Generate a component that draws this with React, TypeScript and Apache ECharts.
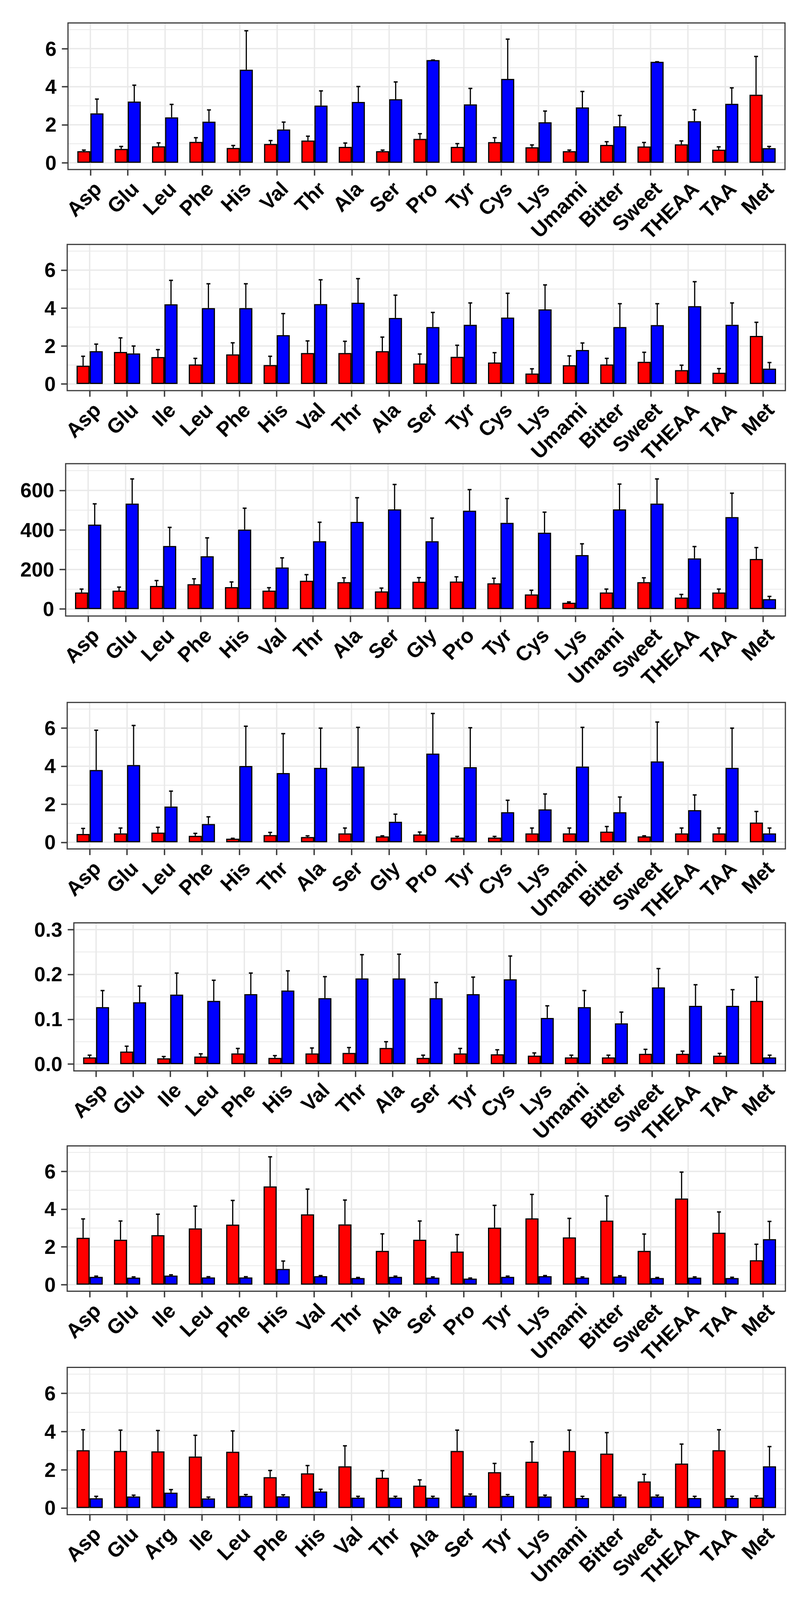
import React, { useEffect, useRef, useState } from "react";
import * as echarts from "echarts";

const REF_W = 2073;
const REF_H = 4182;
const FONT = "'Liberation Sans', Arial, Helvetica, sans-serif";

// ---------- data ----------
const CATS_A = ["Asp","Glu","Leu","Phe","His","Val","Thr","Ala","Ser","Pro","Tyr","Cys","Lys","Umami","Bitter","Sweet","THEAA","TAA","Met"];
const RED_A = [0.61,0.73,0.87,1.10,0.78,0.99,1.17,0.84,0.61,1.26,0.84,1.09,0.82,0.61,0.94,0.86,0.97,0.69,3.58];
const RED_A_UP = [0.67,0.86,1.05,1.32,0.91,1.17,1.40,1.04,0.67,1.53,1.01,1.32,0.94,0.67,1.11,1.07,1.15,0.84,5.59];
const BLUE_A = [2.60,3.22,2.39,2.16,4.89,1.75,3.01,3.20,3.34,5.40,3.07,4.41,2.13,2.91,1.92,5.31,2.19,3.10,0.77];
const BLUE_A_UP = [3.35,4.08,3.07,2.78,6.94,2.14,3.78,4.01,4.25,5.40,3.91,6.50,2.72,3.75,2.49,5.31,2.79,3.94,0.86];

const CATS_B = ["Asp","Glu","Ile","Leu","Phe","His","Val","Thr","Ala","Ser","Tyr","Cys","Lys","Umami","Bitter","Sweet","THEAA","TAA","Met"];
const RED_B = [0.96,1.69,1.42,1.03,1.56,1.00,1.63,1.63,1.73,1.08,1.43,1.13,0.55,0.99,1.03,1.17,0.73,0.59,2.53];
const RED_B_UP = [1.46,2.43,1.81,1.35,2.17,1.46,2.27,2.25,2.47,1.58,2.04,1.65,0.80,1.48,1.35,1.67,0.99,0.81,3.25];
const BLUE_B = [1.73,1.61,4.20,4.00,4.00,2.57,4.21,4.28,3.48,3.00,3.12,3.50,3.93,1.79,3.00,3.10,4.10,3.12,0.81];
const BLUE_B_UP = [2.10,2.00,5.46,5.28,5.28,3.71,5.49,5.55,4.68,3.77,4.27,4.78,5.22,2.16,4.23,4.23,5.39,4.27,1.13];

const CATS_C = ["Asp","Glu","Leu","Phe","His","Val","Thr","Ala","Ser","Gly","Pro","Tyr","Cys","Lys","Umami","Sweet","THEAA","TAA","Met"];
const RED_C = [84,93,117,126,111,93,143,136,89,138,139,130,74,32,84,136,58,84,253];
const RED_C_UP = [101,111,144,153,137,108,174,158,106,159,163,156,95,36,101,158,74,101,311];
const BLUE_C = [427,533,319,267,402,210,343,441,504,343,497,436,386,273,504,533,256,465,50];
const BLUE_C_UP = [532,658,413,360,510,259,439,563,630,460,604,559,490,330,632,658,316,586,64];

const CATS_D = ["Asp","Glu","Leu","Phe","His","Thr","Ala","Ser","Gly","Pro","Tyr","Cys","Lys","Umami","Bitter","Sweet","THEAA","TAA","Met"];
const RED_D = [0.44,0.47,0.51,0.34,0.19,0.38,0.28,0.47,0.31,0.41,0.25,0.25,0.47,0.47,0.56,0.31,0.47,0.47,1.04];
const RED_D_UP = [0.73,0.75,0.79,0.47,0.21,0.52,0.34,0.75,0.34,0.54,0.31,0.31,0.75,0.75,0.83,0.34,0.75,0.75,1.62];
const BLUE_D = [3.80,4.06,1.88,0.96,4.01,3.64,3.91,3.98,1.08,4.66,3.95,1.58,1.73,3.98,1.58,4.25,1.69,3.91,0.47];
const BLUE_D_UP = [5.89,6.14,2.69,1.34,6.10,5.71,6.00,6.04,1.48,6.77,6.02,2.21,2.54,6.04,2.38,6.32,2.49,6.00,0.75];

const CATS_E = ["Asp","Glu","Ile","Leu","Phe","His","Val","Thr","Ala","Ser","Tyr","Cys","Lys","Umami","Bitter","Sweet","THEAA","TAA","Met"];
const RED_E = [0.015,0.028,0.013,0.017,0.024,0.014,0.024,0.025,0.036,0.014,0.024,0.022,0.019,0.015,0.015,0.023,0.023,0.019,0.141];
const RED_E_UP = [0.020,0.040,0.017,0.023,0.035,0.019,0.036,0.037,0.050,0.020,0.035,0.032,0.025,0.020,0.020,0.033,0.029,0.024,0.194];
const BLUE_E = [0.127,0.138,0.155,0.141,0.156,0.164,0.147,0.191,0.191,0.147,0.156,0.189,0.103,0.127,0.091,0.171,0.130,0.130,0.015];
const BLUE_E_UP = [0.164,0.174,0.203,0.187,0.203,0.208,0.195,0.244,0.245,0.182,0.194,0.241,0.130,0.164,0.116,0.213,0.177,0.166,0.020];

const CATS_F = ["Asp","Glu","Ile","Leu","Phe","His","Val","Thr","Ala","Ser","Pro","Tyr","Lys","Umami","Bitter","Sweet","THEAA","TAA","Met"];
const RED_F = [2.48,2.38,2.62,2.98,3.18,5.20,3.72,3.19,1.79,2.38,1.75,3.02,3.51,2.50,3.39,1.79,4.56,2.75,1.29];
const RED_F_UP = [3.48,3.37,3.73,4.16,4.46,6.77,5.06,4.48,2.69,3.37,2.65,4.20,4.78,3.51,4.70,2.68,5.96,3.85,2.14];
const BLUE_F = [0.41,0.37,0.48,0.38,0.38,0.83,0.45,0.35,0.41,0.37,0.32,0.41,0.45,0.37,0.43,0.35,0.37,0.35,2.41];
const BLUE_F_UP = [0.45,0.41,0.52,0.42,0.42,1.25,0.48,0.38,0.45,0.41,0.35,0.45,0.48,0.41,0.47,0.38,0.41,0.39,3.35];

const CATS_G = ["Asp","Glu","Arg","Ile","Leu","Phe","His","Val","Thr","Ala","Ser","Tyr","Lys","Umami","Bitter","Sweet","THEAA","TAA","Met"];
const RED_G = [3.02,2.98,2.96,2.69,2.94,1.61,1.81,2.18,1.58,1.17,2.98,1.87,2.42,2.98,2.84,1.39,2.32,3.02,0.54];
const RED_G_UP = [4.09,4.07,4.05,3.80,4.03,1.96,2.22,3.25,1.95,1.47,4.07,2.33,3.46,4.07,3.94,1.76,3.34,4.09,0.63];
const BLUE_G = [0.51,0.60,0.80,0.50,0.63,0.61,0.86,0.54,0.54,0.54,0.65,0.63,0.60,0.52,0.60,0.60,0.52,0.52,2.18];
const BLUE_G_UP = [0.61,0.67,0.96,0.57,0.70,0.69,0.98,0.61,0.61,0.61,0.73,0.70,0.67,0.61,0.67,0.67,0.61,0.61,3.21];

// y tick labels and axis limits (before the 5% expansion)
const TICKS_7 = [0, 2, 4, 6];
const TICKS_700 = [0, 200, 400, 600];
const TICKS_03 = [0, 0.1, 0.2, 0.3];
const LIMITS_7 = [0, 7];
const LIMITS_700 = [0, 700];
const LIMITS_03 = [0, 0.3];

// ---------- layout (panel boxes in reference pixels: left, top, right, bottom) ----------
const PANELS = [
  { cats: CATS_A, red: RED_A, redUp: RED_A_UP, blue: BLUE_A, blueUp: BLUE_A_UP, ticks: TICKS_7, lim: LIMITS_7, dec: 0, box: [174, 60, 2009, 443] },
  { cats: CATS_B, red: RED_B, redUp: RED_B_UP, blue: BLUE_B, blueUp: BLUE_B_UP, ticks: TICKS_7, lim: LIMITS_7, dec: 0, box: [172, 639, 2010, 1021] },
  { cats: CATS_C, red: RED_C, redUp: RED_C_UP, blue: BLUE_C, blueUp: BLUE_C_UP, ticks: TICKS_700, lim: LIMITS_700, dec: 0, box: [168, 1212, 2010, 1610] },
  { cats: CATS_D, red: RED_D, redUp: RED_D_UP, blue: BLUE_D, blueUp: BLUE_D_UP, ticks: TICKS_7, lim: LIMITS_7, dec: 0, box: [172, 1836, 2010, 2219] },
  { cats: CATS_E, red: RED_E, redUp: RED_E_UP, blue: BLUE_E, blueUp: BLUE_E_UP, ticks: TICKS_03, lim: LIMITS_03, dec: 1, box: [189, 2412, 2010, 2799] },
  { cats: CATS_F, red: RED_F, redUp: RED_F_UP, blue: BLUE_F, blueUp: BLUE_F_UP, ticks: TICKS_7, lim: LIMITS_7, dec: 0, box: [172, 2995, 2010, 3375] },
  { cats: CATS_G, red: RED_G, redUp: RED_G_UP, blue: BLUE_G, blueUp: BLUE_G_UP, ticks: TICKS_7, lim: LIMITS_7, dec: 0, box: [172, 3574, 2010, 3959] },
];

const RED = "#FF0000";
const BLUE = "#0000FF";
const GRID_COLOR = "#E9E9E9";
const FRAME_COLOR = "#3A3A3A";
const BAR_HALF = 0.35; // bar width in category units (dodge width 0.7)

function gridLinesRender(params: any, api: any) {
  const cs = params.coordSys;
  const kind = api.value(0);
  const v = api.value(1);
  const major = api.value(2);
  if (kind === 0) {
    const y = api.coord([0, v])[1];
    return {
      type: "line",
      shape: { x1: cs.x, y1: y, x2: cs.x + cs.width, y2: y },
      style: { stroke: GRID_COLOR, lineWidth: major ? 3.5 : 2 },
    };
  }
  const x = api.coord([v, 0])[0];
  return {
    type: "line",
    shape: { x1: x, y1: cs.y, x2: x, y2: cs.y + cs.height },
    style: { stroke: GRID_COLOR, lineWidth: 3.5 },
  };
}

function errorRender(offset: number) {
  return (params: any, api: any) => {
    const x = api.value(0) + offset;
    const p1 = api.coord([x, api.value(1)]);
    const p2 = api.coord([x, api.value(2)]);
    return {
      type: "group",
      children: [
        {
          type: "line",
          shape: { x1: p1[0], y1: p1[1], x2: p2[0], y2: p2[1] },
          style: { stroke: "#000", lineWidth: 3 },
        },
        {
          type: "line",
          shape: { x1: p2[0] - 5, y1: p2[1], x2: p2[0] + 5, y2: p2[1] },
          style: { stroke: "#000", lineWidth: 3.5 },
        },
      ],
    };
  };
}

function buildOption(sx: number, sy: number) {
  const fs = Math.min(sx, sy);
  const grid: any[] = [];
  const xAxis: any[] = [];
  const yAxis: any[] = [];
  const series: any[] = [];

  PANELS.forEach((p, k) => {
    const [l, t, r, b] = p.box;
    const n = p.cats.length;
    const idx = p.cats.map((_, i) => i);
    const span = p.lim[1] - p.lim[0];
    const ymin = p.lim[0] - 0.05 * span;
    const ymax = p.lim[1] + 0.05 * span;

    grid.push({
      left: l * sx,
      top: t * sy,
      width: (r - l) * sx,
      height: (b - t) * sy,
      show: true,
      borderColor: FRAME_COLOR,
      borderWidth: 3,
      backgroundColor: "transparent",
      containLabel: false,
      outerBoundsMode: "none",
      z: 5,
    });

    xAxis.push({
      gridIndex: k,
      type: "value",
      min: -0.6,
      max: n - 1 + 0.6,
      axisLine: { show: false, onZero: false },
      splitLine: { show: false },
      minorSplitLine: { show: false },
      axisTick: {
        show: true,
        customValues: idx,
        length: 16 * fs,
        lineStyle: { color: FRAME_COLOR, width: 3.5 },
      },
      axisLabel: {
        show: true,
        customValues: idx,
        formatter: (v: number) => p.cats[Math.round(v)] ?? "",
        rotate: 45,
        align: "right",
        verticalAlign: "top",
        margin: 22 * fs,
        fontSize: 54 * fs,
        fontWeight: "bold",
        fontFamily: FONT,
        color: "#000",
      },
    });

    yAxis.push({
      gridIndex: k,
      type: "value",
      min: ymin,
      max: ymax,
      axisLine: { show: false, onZero: false },
      splitLine: { show: false },
      minorSplitLine: { show: false },
      axisTick: {
        show: true,
        customValues: p.ticks,
        length: 16 * fs,
        lineStyle: { color: FRAME_COLOR, width: 3.5 },
      },
      axisLabel: {
        show: true,
        customValues: p.ticks,
        formatter: (v: number) => (p.dec ? v.toFixed(p.dec) : String(Math.round(v))),
        margin: 30 * fs,
        fontSize: 53 * fs,
        fontWeight: "bold",
        fontFamily: FONT,
        color: "#000",
      },
    });

    // grid lines: major at ticks, minor halfway
    const step = p.ticks[1] - p.ticks[0];
    const gl: number[][] = [];
    for (let j = 0; ; j++) {
      const v = p.lim[0] + j * step;
      if (v > ymax + 1e-9) break;
      gl.push([0, v, 1]);
      const m = v + step / 2;
      if (m < ymax) gl.push([0, m, 0]);
    }
    idx.forEach((i) => gl.push([1, i, 1]));
    series.push({
      type: "custom",
      xAxisIndex: k,
      yAxisIndex: k,
      data: gl,
      renderItem: gridLinesRender,
      silent: true,
      z: 1,
    });

    series.push({
      type: "bar",
      xAxisIndex: k,
      yAxisIndex: k,
      data: p.red.map((v, i) => [i, v]),
      barWidth: "35%",
      barGap: "0%",
      itemStyle: { color: RED, borderColor: "#000", borderWidth: 3 },
      silent: true,
      z: 2,
    });
    series.push({
      type: "bar",
      xAxisIndex: k,
      yAxisIndex: k,
      data: p.blue.map((v, i) => [i, v]),
      barWidth: "35%",
      barGap: "0%",
      itemStyle: { color: BLUE, borderColor: "#000", borderWidth: 3 },
      silent: true,
      z: 2,
    });

    series.push({
      type: "custom",
      xAxisIndex: k,
      yAxisIndex: k,
      data: p.red.map((v, i) => [i, v, p.redUp[i]]),
      renderItem: errorRender(-BAR_HALF / 2),
      silent: true,
      z: 3,
    });
    series.push({
      type: "custom",
      xAxisIndex: k,
      yAxisIndex: k,
      data: p.blue.map((v, i) => [i, v, p.blueUp[i]]),
      renderItem: errorRender(BAR_HALF / 2),
      silent: true,
      z: 3,
    });
  });

  return {
    animation: false,
    backgroundColor: "#ffffff",
    textStyle: { fontFamily: FONT },
    grid,
    xAxis,
    yAxis,
    series,
  };
}

export default function App() {
  const ref = useRef<HTMLDivElement>(null);
  const [size] = useState(() => {
    const w = (typeof window !== "undefined" && window.innerWidth) || REF_W;
    const h = (typeof window !== "undefined" && window.innerHeight) || REF_H;
    return { w: Math.min(w, REF_W), h: Math.min(h, REF_H) };
  });
  useEffect(() => {
    document.body.style.margin = "0";
    document.body.style.overflow = "hidden";
    const chart = echarts.init(ref.current!, undefined, {
      renderer: "svg",
      width: size.w,
      height: size.h,
    });
    chart.setOption(buildOption(size.w / REF_W, size.h / REF_H) as any);
    return () => chart.dispose();
  }, [size]);
  return (
    <div
      ref={ref}
      style={{ position: "absolute", left: 0, top: 0, width: size.w, height: size.h, background: "#fff" }}
    />
  );
}
